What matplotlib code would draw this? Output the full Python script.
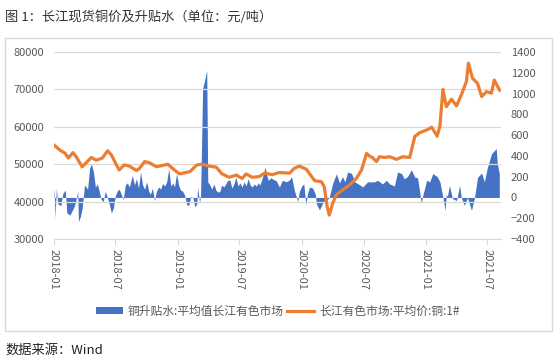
import matplotlib
matplotlib.use('Agg')
from matplotlib import pyplot as plt
import matplotlib.dates as mdates
from matplotlib.patches import Patch, Rectangle
from matplotlib.lines import Line2D
import pandas as pd

plt.rcParams['font.family'] = ['Noto Sans CJK SC', 'DejaVu Sans']

# 长江有色市场:平均价:铜:1# (left axis)
price_dates = ["2018-01-01", "2018-01-18", "2018-02-03", "2018-02-12", "2018-02-26", "2018-03-08",
               "2018-03-25", "2018-04-06", "2018-04-21", "2018-05-05", "2018-05-23", "2018-06-08",
               "2018-06-19", "2018-07-04", "2018-07-12", "2018-07-27", "2018-08-11", "2018-09-01",
               "2018-09-10", "2018-09-25", "2018-10-09", "2018-10-30", "2018-11-23", "2018-12-02",
               "2018-12-22", "2019-01-06", "2019-02-05", "2019-02-26", "2019-03-10", "2019-04-03",
               "2019-04-24", "2019-05-11", "2019-06-01", "2019-06-22", "2019-07-09", "2019-07-21",
               "2019-08-08", "2019-08-29", "2019-09-13", "2019-10-06", "2019-10-27", "2019-11-26",
               "2019-12-10", "2019-12-25", "2020-01-15", "2020-01-30", "2020-02-08", "2020-02-28",
               "2020-03-07", "2020-03-16", "2020-03-22", "2020-04-01", "2020-04-12", "2020-04-30",
               "2020-05-20", "2020-06-10", "2020-06-25", "2020-07-10", "2020-07-18", "2020-07-27",
               "2020-08-08", "2020-08-17", "2020-09-01", "2020-09-16", "2020-10-06", "2020-10-24",
               "2020-11-14", "2020-11-29", "2020-12-13", "2021-01-07", "2021-01-18", "2021-02-03",
               "2021-02-11", "2021-02-20", "2021-03-02", "2021-03-17", "2021-04-01", "2021-04-15",
               "2021-04-30", "2021-05-06", "2021-05-18", "2021-06-02", "2021-06-14", "2021-06-28",
               "2021-07-13", "2021-07-21", "2021-08-06"]
price_vals = [55130, 53800, 52900, 51650, 53100, 51900,
              49300, 50400, 51800, 51100, 51600, 53600,
              52500, 49800, 48450, 49800, 49500, 48300,
              48900, 50700, 50400, 49300, 49800, 50000,
              48450, 47400, 48000, 49800, 50000, 49500,
              49200, 47400, 46500, 47100, 46200, 47400,
              46500, 46700, 47600, 47200, 47800, 47600,
              48900, 49500, 48600, 46700, 45600, 45300,
              44000, 38600, 36400, 39500, 41800, 43100,
              44400, 46200, 48450, 52900, 52200, 51800,
              50700, 52000, 51800, 52000, 51300, 52000,
              51800, 57400, 58400, 59300, 59900, 57500,
              60200, 70000, 65400, 67400, 65600, 68500,
              72100, 77000, 73000, 71600, 68100, 69400,
              69000, 72500, 69800]

# 铜升贴水:平均值长江有色市场 (right axis)
prem_dates = ["2018-01-01", "2018-01-02", "2018-01-04", "2018-01-08", "2018-01-12", "2018-01-21",
              "2018-01-27", "2018-02-03", "2018-02-08", "2018-02-17", "2018-02-23", "2018-03-01",
              "2018-03-05", "2018-03-12", "2018-03-14", "2018-03-20", "2018-03-25", "2018-04-01",
              "2018-04-10", "2018-04-16", "2018-04-21", "2018-04-27", "2018-05-03", "2018-05-09",
              "2018-05-14", "2018-05-20", "2018-05-26", "2018-06-01", "2018-06-08", "2018-06-14",
              "2018-06-19", "2018-06-25", "2018-07-01", "2018-07-07", "2018-07-12", "2018-07-18",
              "2018-07-24", "2018-07-30", "2018-08-05", "2018-08-11", "2018-08-20", "2018-08-26",
              "2018-09-01", "2018-09-07", "2018-09-13", "2018-09-19", "2018-09-25", "2018-10-01",
              "2018-10-07", "2018-10-12", "2018-10-18", "2018-10-24", "2018-10-30", "2018-11-05",
              "2018-11-11", "2018-11-17", "2018-11-23", "2018-11-29", "2018-12-05", "2018-12-11",
              "2018-12-17", "2018-12-22", "2018-12-28", "2019-01-03", "2019-01-09", "2019-01-15",
              "2019-01-21", "2019-01-27", "2019-02-02", "2019-02-08", "2019-02-14", "2019-02-20",
              "2019-02-26", "2019-02-28", "2019-03-06", "2019-03-09", "2019-03-15", "2019-03-21",
              "2019-03-27", "2019-03-30", "2019-04-05", "2019-04-11", "2019-04-17", "2019-04-23",
              "2019-04-29", "2019-05-05", "2019-05-10", "2019-05-16", "2019-05-22", "2019-05-28",
              "2019-06-03", "2019-06-09", "2019-06-15", "2019-06-21", "2019-06-27", "2019-07-03",
              "2019-07-09", "2019-07-15", "2019-07-21", "2019-07-27", "2019-08-02", "2019-08-08",
              "2019-08-14", "2019-08-20", "2019-08-26", "2019-08-31", "2019-09-06", "2019-09-15",
              "2019-09-21", "2019-09-24", "2019-10-03", "2019-10-06", "2019-10-18", "2019-10-27",
              "2019-11-05", "2019-11-17", "2019-11-26", "2019-12-02", "2019-12-10", "2019-12-20",
              "2019-12-25", "2020-01-01", "2020-01-07", "2020-01-13", "2020-01-18", "2020-01-24",
              "2020-02-02", "2020-02-10", "2020-02-13", "2020-02-22", "2020-03-03", "2020-03-07",
              "2020-03-16", "2020-03-22", "2020-04-01", "2020-04-12", "2020-04-21", "2020-04-30",
              "2020-05-07", "2020-05-15", "2020-05-27", "2020-06-05", "2020-06-13", "2020-06-25",
              "2020-06-28", "2020-07-13", "2020-08-02", "2020-08-11", "2020-08-26", "2020-09-06",
              "2020-09-16", "2020-09-30", "2020-10-09", "2020-10-21", "2020-10-29", "2020-11-07",
              "2020-11-19", "2020-11-29", "2020-12-07", "2020-12-13", "2020-12-18", "2020-12-21",
              "2021-01-03", "2021-01-12", "2021-01-21", "2021-02-03", "2021-02-11", "2021-02-20",
              "2021-02-26", "2021-03-02", "2021-03-05", "2021-03-11", "2021-03-20", "2021-04-01",
              "2021-04-10", "2021-04-15", "2021-04-24", "2021-05-03", "2021-05-15", "2021-05-24",
              "2021-06-02", "2021-06-14", "2021-06-22", "2021-07-01", "2021-07-13", "2021-07-21",
              "2021-07-27", "2021-07-30", "2021-08-05"]
prem_vals = [80, 60, -200, 90, -60, -80,
             40, 70, -150, -170, -130, -90,
             -50, 60, -234, -180, -100, 120,
             80, 280, 324, 250, 100, 130,
             60, -20, -40, 60, -10, -80,
             -150, -100, 20, 65, 80, 30,
             -20, 120, 140, 100, 212, 120,
             180, 90, 244, 120, 80, 150,
             60, 30, 90, -30, 60, 100,
             80, 135, 110, 150, 276, 110,
             140, 100, 230, 120, 70, 60,
             20, -70, -77, 10, 0, -90,
             -60, 100, -50, 30, 1050, 1130,
             1222, 150, 120, 80, 130, 70,
             50, 60, 120, 100, 130, 165,
             170, 90, 130, 195, 110, 140,
             100, 150, 110, 180, 120, 100,
             130, 110, 140, 120, 180, 290,
             200, 165, 190, 180, 160, 100,
             165, 150, 170, 200, 70, -40,
             60, 110, 130, -73, 40, 100,
             90, 30, -60, -120, -50, -30,
             -20, 0, 135, 228, 140, 200,
             150, 245, 230, 150, 135, 110,
             100, 150, 150, 165, 130, 165,
             130, 110, 244, 230, 180, 200,
             266, 195, 190, 65, -60, 0,
             165, 150, 230, 200, 150, 0,
             -125, 30, 10, 115, -10, -30,
             115, 0, -77, 0, -125, 0,
             195, 235, 150, 290, 420, 450,
             470, 330, 230]

tick_dates = ["2018-01-01", "2018-07-01", "2019-01-01", "2019-07-01",
              "2020-01-01", "2020-07-01", "2021-01-01", "2021-07-01"]

label_prem = '铜升贴水:平均值长江有色市场'
label_price = '长江有色市场:平均价:铜:1#'

blue = '#4472C4'
orange = '#ED7D31'
grey = '#595959'
gridc = '#D9D9D9'

pd_price = pd.to_datetime(price_dates)
pd_prem = pd.to_datetime(prem_dates)

fig = plt.figure(figsize=(5.55, 3.63), dpi=100)
ax = fig.add_axes([0.0973, 0.3416, 0.8054, 0.5151])
ax2 = ax.twinx()

ax2.fill_between(pd_prem, prem_vals, 0, color=blue, linewidth=0)
ax.plot(pd_price, price_vals, color=orange, linewidth=2.3, solid_joinstyle='round')

# orange line on top of blue area
ax.set_zorder(ax2.get_zorder() + 1)
ax.patch.set_visible(False)

ax.set_ylim(30000, 80000)
ax.set_yticks(range(30000, 80001, 10000))
ax2.set_ylim(-400, 1400)
ax2.set_yticks(range(-400, 1401, 200))
ax.set_xlim(pd.Timestamp("2018-01-01"), pd.Timestamp("2021-08-10"))

ax.grid(axis='y', color=gridc, linewidth=0.9)
ax.set_xticks(pd.to_datetime(tick_dates))
ax.xaxis.set_major_formatter(mdates.DateFormatter('%Y-%m'))
ax.tick_params(axis='x', length=4, color=gridc, labelsize=8, labelcolor=grey,
               labelrotation=270, pad=3)
ax.tick_params(axis='y', length=0, labelsize=8, labelcolor=grey, pad=7)
ax2.tick_params(axis='y', length=0, labelsize=8, labelcolor=grey, pad=7)
for lab in ax.get_xticklabels():
    lab.set_verticalalignment('top')
    lab.set_horizontalalignment('center')

for a in (ax, ax2):
    for s in a.spines.values():
        s.set_visible(False)
ax.spines['bottom'].set_visible(True)
ax.spines['bottom'].set_color(gridc)

# outer frame
fig.patches.append(Rectangle((5 / 555, 1 - 331 / 363), 547 / 555, 293 / 363,
                             transform=fig.transFigure, fill=False,
                             edgecolor=gridc, linewidth=1.0))

handles = [Patch(facecolor=blue, edgecolor='none'),
           Line2D([0], [0], color=orange, linewidth=2.3)]
fig.legend(handles, [label_prem, label_price], loc='center', bbox_to_anchor=(0.5, 1 - 311 / 363),
           ncol=2, frameon=False, fontsize=8.5, handlelength=2.3, handleheight=0.5,
           handletextpad=0.4, columnspacing=0.3, labelcolor=grey)

fig.text(5 / 555, 1 - 17 / 363, '图 1：长江现货铜价及升贴水（单位：元/吨）', fontsize=9.5,
         color='#333333', va='center', ha='left')
fig.text(5 / 555, 1 - 350 / 363, '数据来源：Wind', fontsize=9.5,
         color='#222222', va='center', ha='left')

fig.savefig('out.png', dpi=100)
